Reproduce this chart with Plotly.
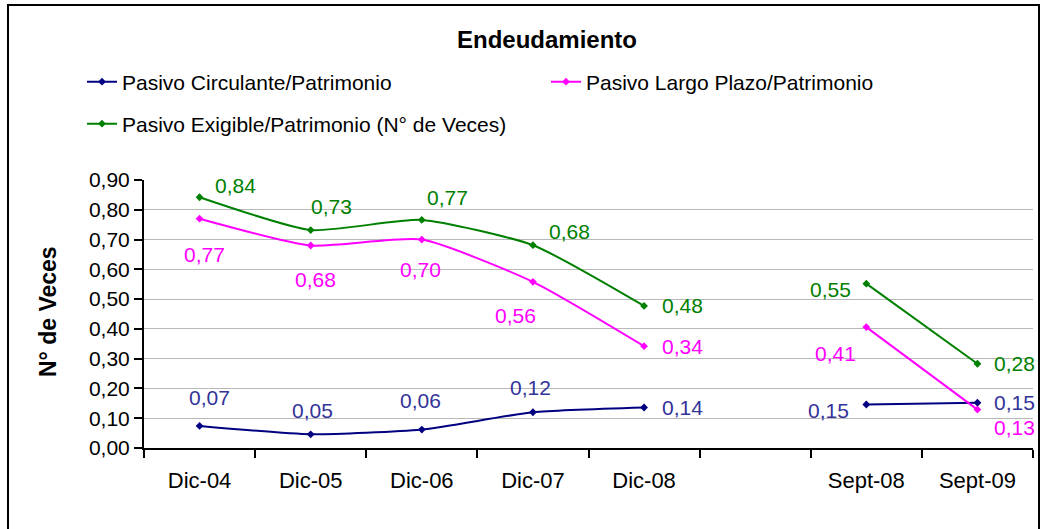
import plotly.graph_objects as go

categories = ["Dic-04", "Dic-05", "Dic-06", "Dic-07", "Dic-08", " ", "Sept-08", "Sept-09"]
circulante = [0.074, 0.046, 0.062, 0.120, 0.136, None, 0.146, 0.152]
largo_plazo = [0.770, 0.680, 0.700, 0.558, 0.342, None, 0.406, 0.129]
exigible = [0.842, 0.732, 0.766, 0.681, 0.477, None, 0.552, 0.283]

series_names = ["Pasivo Circulante/Patrimonio", "Pasivo Largo Plazo/Patrimonio",
                "Pasivo Exigible/Patrimonio (N° de Veces)"]

# styles
line_colors = ["#000080", "#FF00FF", "#008000"]
label_colors = ["#333399", "#FF00FF", "#008000"]
label_offsets = [
    [(10, 28), (2, 24), (-1, 29), (-2, 25), (38, 0), None, (-38, -6), (37, 0)],
    [(5, -36), (5, -34), (-1, -30), (-17, -34), (38, 0), None, (-31, -26), (37, -18)],
    [(36, 12), (21, 24), (26, 22), (37, 14), (38, 0), None, (-36, -6), (37, 0)],
]
FONT = "Liberation Sans, Arial, sans-serif"

fig = go.Figure()
all_series = [circulante, largo_plazo, exigible]
legend_ids = ["legend", "legend2", "legend3"]
for i, vals in enumerate(all_series):
    fig.add_trace(go.Scatter(
        x=categories, y=vals, name=series_names[i], mode="lines+markers",
        line=dict(color=line_colors[i], width=2, shape="spline", smoothing=0.55),
        marker=dict(symbol="diamond", size=6, color=line_colors[i]),
        connectgaps=False, legend=legend_ids[i], showlegend=True,
    ))
    for j, v in enumerate(vals):
        if v is None:
            continue
        dx, dy = label_offsets[i][j]
        fig.add_annotation(
            x=categories[j], y=v, xref="x", yref="y", text=f"{v:.2f}".replace(".", ","),
            showarrow=False, xshift=dx, yshift=dy,
            font=dict(family=FONT, size=21, color=label_colors[i]),
        )

# plot area: x 144..1033, y 180..448
L, R, T, B = 144, 16, 180, 81
W, H = 1049, 529
pw, ph = W - L - R, H - T - B

def px(x):
    return (x - L) / pw

def py(y):
    return (H - B - y) / ph

fig.add_shape(type="rect", xref="paper", yref="paper",
              x0=px(8), x1=px(1039), y0=py(540), y1=py(5),
              line=dict(color="black", width=2), fillcolor="rgba(0,0,0,0)", layer="below")

fig.add_annotation(text="<b>N° de Veces</b>", xref="paper", yref="paper",
                   x=px(48), y=py(312), xanchor="center", yanchor="middle",
                   textangle=-90, showarrow=False,
                   font=dict(family=FONT, size=23, color="black"))

legend_common = dict(font=dict(family=FONT, size=21, color="black"),
                     bgcolor="rgba(0,0,0,0)", xanchor="left", yanchor="middle",
                     itemwidth=30, borderwidth=0)
fig.update_layout(
    width=W, height=H,
    margin=dict(l=L, r=R, t=T, b=B),
    paper_bgcolor="white", plot_bgcolor="white",
    separators=",.",
    title=dict(text="<b>Endeudamiento</b>", x=px(547), xref="paper", xanchor="center",
               y=1 - 40 / H, yanchor="middle",
               font=dict(family=FONT, size=24, color="black")),
    legend=dict(x=px(82), y=py(82), **legend_common),
    legend2=dict(x=px(546), y=py(82), **legend_common),
    legend3=dict(x=px(82), y=py(124), **legend_common),
    xaxis=dict(type="category", categoryorder="array", categoryarray=categories,
               range=[-0.5, 7.5], tickson="boundaries", ticks="outside", ticklen=8,
               tickwidth=2, tickcolor="black", showline=True, linecolor="black",
               linewidth=2, showgrid=False, ticklabelstandoff=12,
               tickfont=dict(family=FONT, size=22, color="black")),
    yaxis=dict(range=[0, 0.9], dtick=0.1, tick0=0, tickformat=".2f", ticks="outside",
               ticklen=8, tickwidth=2, tickcolor="black", showline=True,
               linecolor="black", linewidth=2, showgrid=True, gridcolor="#b8b8b8",
               gridwidth=1, zeroline=False,
               tickfont=dict(family=FONT, size=21, color="black")),
)

fig.write_html("out.html", config={"displayModeBar": False},
               post_script="document.body.style.margin='0';")
